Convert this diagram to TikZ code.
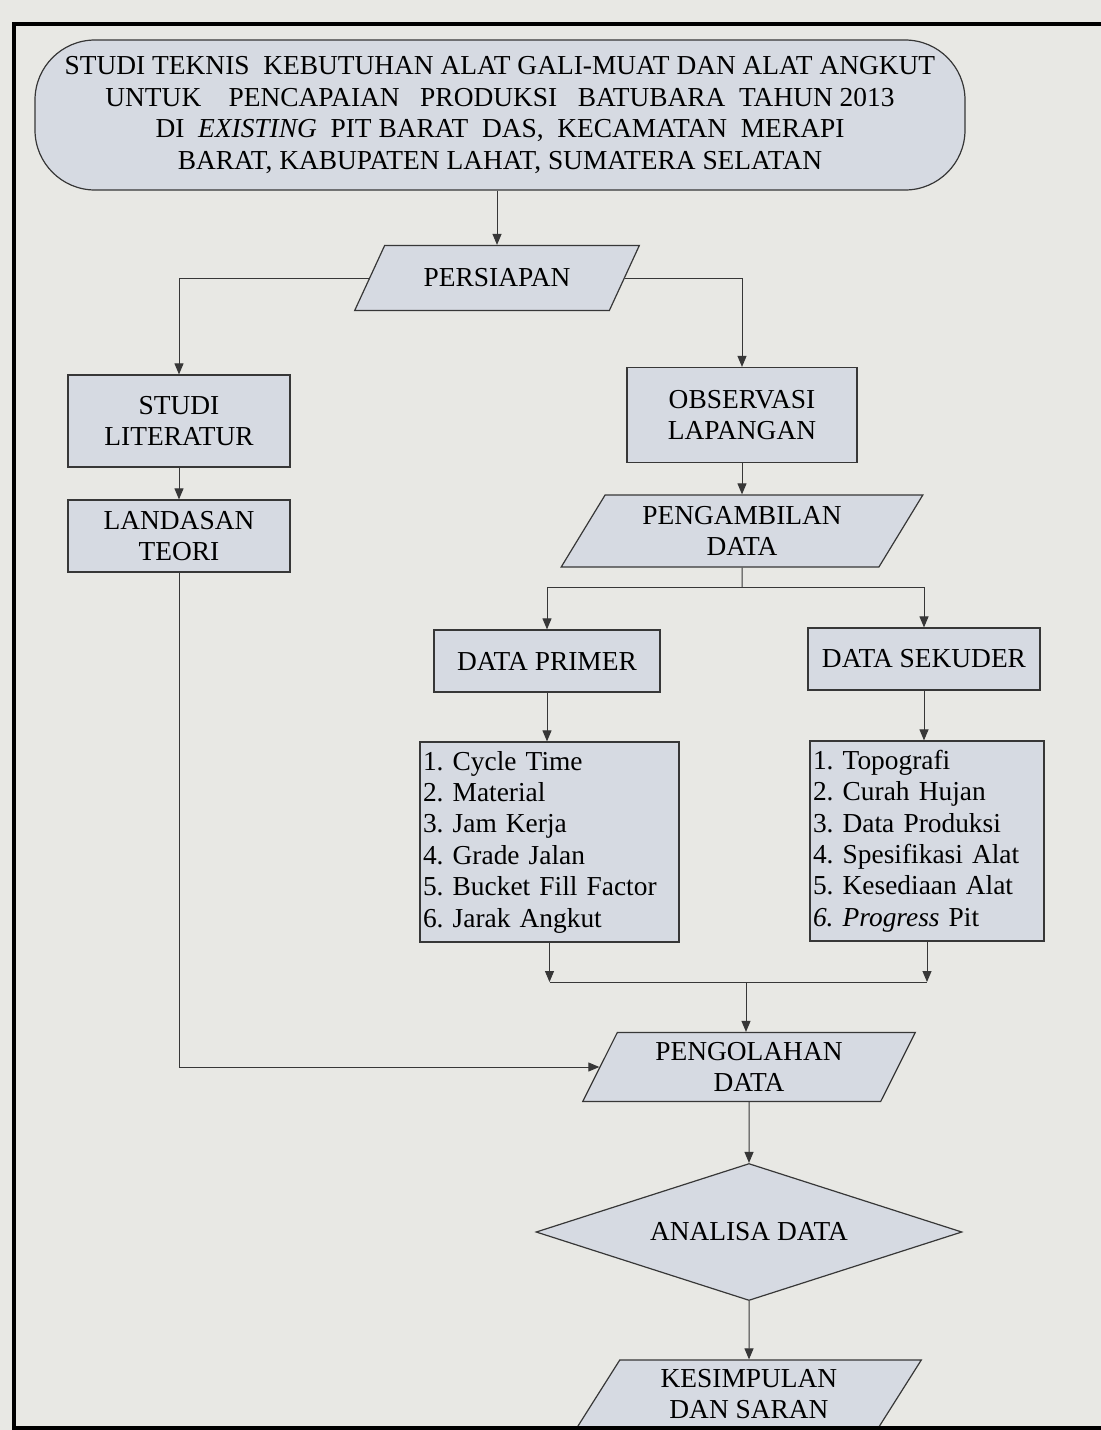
\documentclass[tikz,border=0pt]{standalone}
\usepackage{fontspec}
\setmainfont{Liberation Serif}
\usetikzlibrary{arrows.meta,shapes.geometric}
\definecolor{paper}{RGB}{232,232,228}
\definecolor{boxfill}{RGB}{214,218,226}
\definecolor{linegray}{RGB}{55,55,55}
\frenchspacing

\begin{document}
\begin{tikzpicture}[x=0.5pt,y=-0.5pt,
    every node/.style={font=\fontsize{13.7}{15.7}\selectfont,align=center},
    box/.style={draw=linegray,fill=boxfill,line width=0.6pt,inner sep=2pt},
    datain/.style={box,trapezium,trapezium left angle=#1,trapezium right angle=180-#1,trapezium stretches=true},
    datain/.default=66,
    listbox/.style={box,align=left,inner xsep=1.5pt},
    arr/.style={draw=linegray,line width=0.5pt,-{Triangle[length=5.5pt,width=4.5pt]}},
    link/.style={draw=linegray,line width=0.5pt}]
    \fill[paper] (0,0) rectangle (1101,1430);
    \useasboundingbox (0,0) rectangle (1101,1430);
    % nodes
    \node[box,rounded corners=30pt,minimum width=465pt,minimum height=75pt] (title) at (500,115)
        {STUDI TEKNIS\ \ KEBUTUHAN ALAT GALI-MUAT DAN ALAT ANGKUT\\
         UNTUK\ \ \ \ PENCAPAIAN\ \ \ PRODUKSI\ \ \ BATUBARA\ \ TAHUN 2013\\
         DI\ \ \textit{EXISTING}\ \ PIT BARAT\ \ DAS,\ \ KECAMATAN\ \ MERAPI\\
         BARAT, KABUPATEN LAHAT, SUMATERA SELATAN};
    \node[datain=52,minimum width=142.5pt,minimum height=32.5pt] (persiapan) at (497,278) {PERSIAPAN};
    \node[box,minimum width=111pt,minimum height=46pt] (studi) at (179,421) {STUDI\\LITERATUR};
    \node[box,minimum width=111pt,minimum height=36pt] (teori) at (179,536) {LANDASAN\\TEORI};
    \node[box,minimum width=115pt,minimum height=47.5pt] (observasi) at (742,415) {OBSERVASI\\LAPANGAN};
    \node[datain=60,minimum width=181pt,minimum height=36pt] (ambil) at (742,531) {PENGAMBILAN\\DATA};
    \node[box,minimum width=113pt,minimum height=31pt] (primer) at (547,661) {DATA PRIMER};
    \node[box,minimum width=116pt,minimum height=31pt] (sekuder) at (924,659) {DATA SEKUDER};
    \node[listbox,text width=126.5pt,minimum height=100pt] (plist) at (549.5,842)
        {1. Cycle Time\\2. Material\\3. Jam Kerja\\4. Grade Jalan\\5. Bucket Fill Factor\\6. Jarak Angkut};
    \node[listbox,text width=114pt,minimum height=100pt] (slist) at (927,841)
        {1. Topografi\\2. Curah Hujan\\3. Data Produksi\\4. Spesifikasi Alat\\5. Kesediaan Alat\\\textit{6. Progress} Pit};
    \node[datain,minimum width=166.5pt,minimum height=34.5pt] (olah) at (749,1067) {PENGOLAHAN\\DATA};
    \node[box,diamond,aspect=3.1,minimum width=213pt,minimum height=68.5pt] (analisa) at (749,1232) {ANALISA DATA};
    \node[datain=62,minimum width=172.5pt,minimum height=34pt] (simpul) at (749,1394) {KESIMPULAN\\DAN SARAN};
    % connectors
    \coordinate (split) at (742,587);
    \coordinate (join) at (746,982);
    \draw[arr] (persiapan.north |- title.south) -- (persiapan.north);
    \draw[arr] (persiapan.west) -| (studi.north);
    \draw[arr] (persiapan.east) -| (observasi.north);
    \draw[arr] (studi) -- (teori);
    \draw[arr] (observasi) -- (ambil);
    \draw[link] (ambil.south) -- (split);
    \draw[arr] (split) -| (primer.north);
    \draw[arr] (split) -| (sekuder.north);
    \draw[arr] (primer.south) -- (primer.south |- plist.north);
    \draw[arr] (sekuder.south) -- (sekuder.south |- slist.north);
    \draw[arr] (plist.south) -- (plist.south |- join);
    \draw[arr] (slist.south) -- (slist.south |- join);
    \draw[link] (plist.south |- join) -- (slist.south |- join);
    \draw[arr] (join) -- (join |- olah.north);
    \draw[arr] (teori.south) |- (olah.west);
    \draw[arr] (olah.south) -- (analisa.north);
    \draw[arr] (analisa.south) -- (simpul.north);
    % frame
    \draw[line width=1.6pt] (1110,24) -- (14,24) -- (14,1428) -- (1110,1428);
\end{tikzpicture}
\end{document}
